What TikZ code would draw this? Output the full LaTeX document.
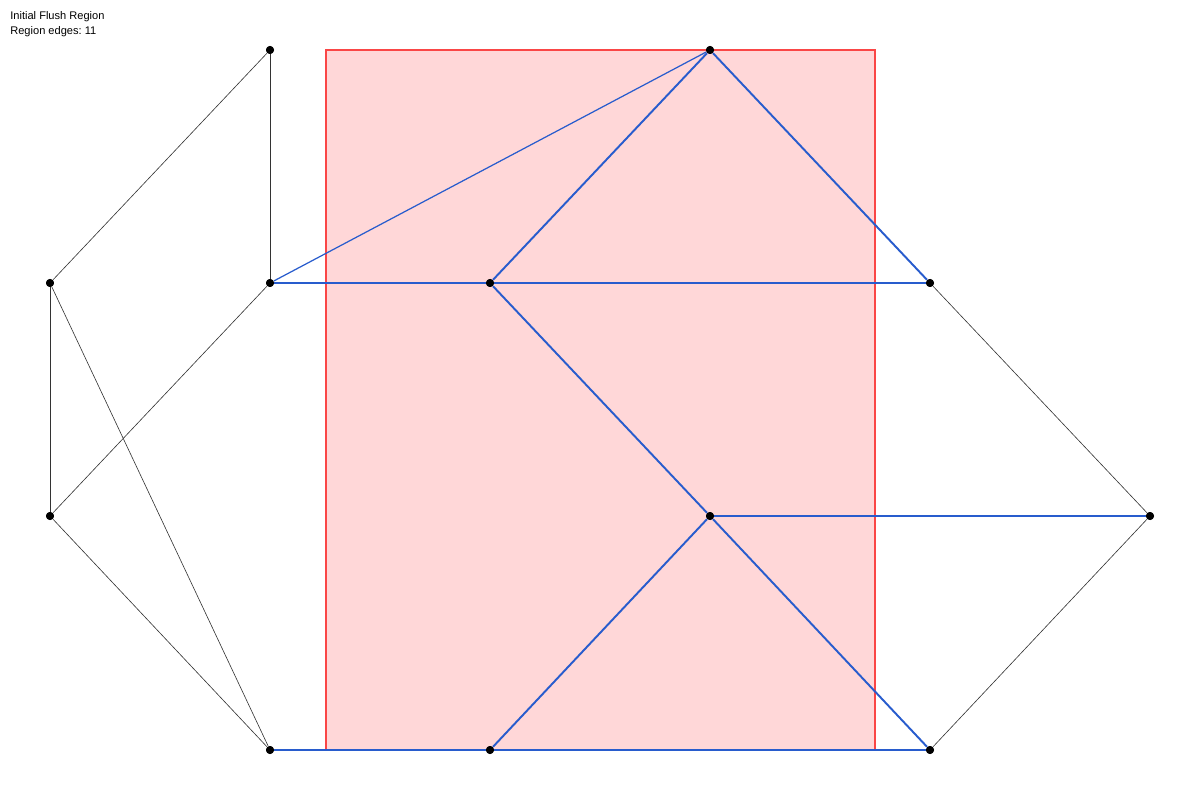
\documentclass[tikz,border=0pt]{standalone}
\usepackage{fontspec}
\setmainfont{Liberation Sans}
\usepackage{tikz}
\usetikzlibrary{positioning}
\definecolor{regionblue}{RGB}{40,92,205}
\definecolor{flushred}{RGB}{250,70,70}
\definecolor{flushfill}{RGB}{255,215,216}
\tikzset{
  vnode/.style={
    circle,
    fill=black,
    minimum size=1.6mm,
    inner sep=0pt
  },
  plainedge/.style={
    draw=black!80,
    line width=0.35pt
  },
  regionedge/.style={
    draw=regionblue,
    line width=1.1pt
  },
  thinregion/.style={
    draw=regionblue,
    line width=0.7pt
  },
  flushbox/.style={
    draw=flushred,
    fill=flushfill,
    line width=0.9pt
  },
  caption/.style={
    anchor=west,
    inner sep=0pt,
    font=\fontsize{6.3}{8.5}\selectfont\frenchspacing
  }
}

\begin{document}
\begin{tikzpicture}[x=0.02cm, y=-0.02cm]
  % Fix the page to the 1200 x 800 frame
  \useasboundingbox (0,0) rectangle (1200,800);

  % Flush region rectangle
  \draw[flushbox] (326,50) rectangle (875,750);

  % Vertices
  \node[vnode] (A) at (270,50)  {};
  \node[vnode] (B) at (710,50)  {};
  \node[vnode] (C) at (50,283)  {};
  \node[vnode] (D) at (270,283) {};
  \node[vnode] (E) at (490,283) {};
  \node[vnode] (F) at (930,283) {};
  \node[vnode] (G) at (50,516)  {};
  \node[vnode] (H) at (710,516) {};
  \node[vnode] (I) at (1150,516) {};
  \node[vnode] (J) at (270,750) {};
  \node[vnode] (K) at (490,750) {};
  \node[vnode] (L) at (930,750) {};

  % Edges outside the region
  \draw[plainedge] (A) -- (C);
  \draw[plainedge] (A) -- (D);
  \draw[plainedge] (C) -- (G);
  \draw[plainedge] (C) -- (J);
  \draw[plainedge] (D) -- (G);
  \draw[plainedge] (G) -- (J);
  \draw[plainedge] (F) -- (I);
  \draw[plainedge] (I) -- (L);

  % Region edges
  \draw[thinregion] (D) -- (B);
  \draw[regionedge] (D) -- (E);
  \draw[regionedge] (E) -- (F);
  \draw[regionedge] (E) -- (B);
  \draw[regionedge] (B) -- (F);
  \draw[regionedge] (E) -- (H);
  \draw[regionedge] (H) -- (I);
  \draw[regionedge] (H) -- (L);
  \draw[regionedge] (H) -- (K);
  \draw[regionedge] (J) -- (K);
  \draw[regionedge] (K) -- (L);

  % Redraw vertices on top
  \foreach \v in {A,B,C,D,E,F,G,H,I,J,K,L}
    \fill (\v) circle (0.08cm);

  % Caption
  \node[caption] (title) at (10,17) {Initial Flush Region};
  \node[caption] (count) at (10,32) {Region edges: 11};
\end{tikzpicture}
\end{document}
